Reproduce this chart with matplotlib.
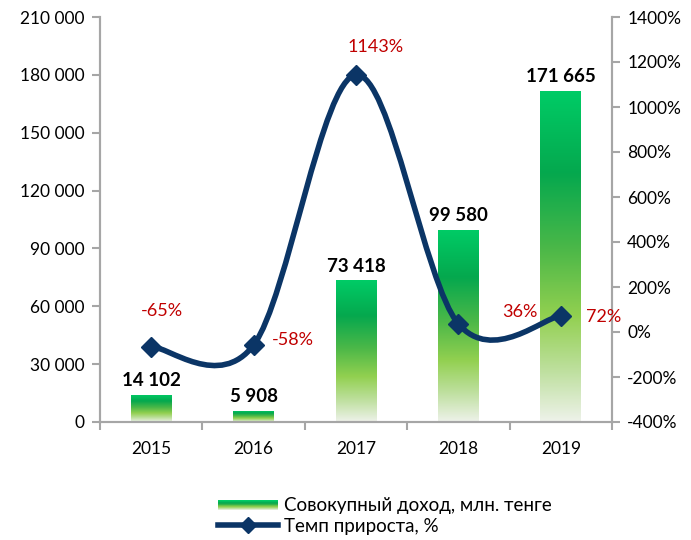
import matplotlib
matplotlib.use('Agg')
import matplotlib.pyplot as plt
import numpy as np
from matplotlib.colors import LinearSegmentedColormap
from matplotlib.path import Path
from matplotlib.patches import PathPatch
from matplotlib.lines import Line2D
from matplotlib.legend_handler import HandlerBase

plt.rcParams['font.family'] = ['Lato', 'DejaVu Sans']

years = ['2015', '2016', '2017', '2018', '2019']
income = [14102, 5908, 73418, 99580, 171665]
growth = [-65, -58, 1143, 36, 72]
income_labels = ['14 102', '5 908', '73 418', '99 580', '171 665']
growth_labels = ['-65%', '-58%', '1143%', '36%', '72%']

navy = '#0b3566'
red = '#c00000'
gray = '#a6a6a6'

# bottom -> top gradient
grad = LinearSegmentedColormap.from_list('g', [
    (0.0, '#eef2ea'), (0.15, '#bfe0a0'), (0.32, '#92d050'),
    (0.52, '#4cb848'), (0.75, '#05a84e'), (1.0, '#00cc66')])

fig = plt.figure(figsize=(6.91, 5.40), dpi=100)
ax = fig.add_axes([100 / 691, 118 / 540, 512 / 691, 405 / 540])
ax2 = ax.twinx()

x = np.arange(len(years))
bw = 0.4
bars = ax.bar(x, income, bw, color='none', edgecolor='none', zorder=2)
img = np.linspace(0, 1, 256).reshape(-1, 1)
for b in bars:
    x0, h = b.get_x(), b.get_height()
    im = ax.imshow(img, cmap=grad, origin='lower', aspect='auto',
                   extent=[x0, x0 + b.get_width(), 0, h], zorder=2)
    im.set_clip_path(b)

for xi, v, lab in zip(x, income, income_labels):
    ax.text(xi, v + 3000, lab, ha='center', va='bottom', fontsize=13.5,
            fontweight='bold', color='black', zorder=5)

ax.set_xlim(-0.5, len(years) - 0.5)
ax.set_ylim(0, 210000)
ax.set_yticks(range(0, 210001, 30000))
ax.set_yticklabels([f'{v:,}'.replace(',', ' ') for v in range(0, 210001, 30000)])
ax2.set_ylim(-400, 1400)
ax2.set_yticks(range(-400, 1401, 200))
ax2.set_yticklabels([f'{v}%' for v in range(-400, 1401, 200)])

ax.set_xticks(x)
ax.set_xticklabels(years)
ax.set_xticks(np.arange(-0.5, len(years), 1), minor=True)
ax.tick_params(axis='x', which='major', length=0, pad=14, labelsize=12.5)
ax.tick_params(axis='x', which='minor', length=6, color=gray, width=1.5)
ax.tick_params(axis='y', length=6, color=gray, width=1.5, labelsize=12.5, pad=5)
ax2.tick_params(axis='y', length=6, color=gray, width=1.5, labelsize=12.5, pad=5)

for a in (ax, ax2):
    a.spines['top'].set_visible(False)
    for s in ('left', 'right', 'bottom'):
        a.spines[s].set_color(gray)
        a.spines[s].set_linewidth(1.5)

# smoothed line (Catmull-Rom -> cubic Bezier, like Excel's smoothing)
pts = np.column_stack([x, growth]).astype(float)
verts = [tuple(pts[0])]
codes = [Path.MOVETO]
n = len(pts)
for i in range(n - 1):
    p0 = pts[i - 1] if i > 0 else pts[i]
    p1, p2 = pts[i], pts[i + 1]
    p3 = pts[i + 2] if i + 2 < n else pts[i + 1]
    c1 = p1 + (p2 - p0) / 6
    c2 = p2 - (p3 - p1) / 6
    verts += [tuple(c1), tuple(c2), tuple(p2)]
    codes += [Path.CURVE4] * 3
ax2.add_patch(PathPatch(Path(verts, codes), facecolor='none', edgecolor=navy,
                        lw=4, zorder=3, capstyle='round'))
ax2.plot(x, growth, linestyle='none', marker='D', markersize=10.5, color=navy, zorder=4)

offsets = [(0.1, 158, 'center'), (0.18, 22, 'left'), (0.19, 124, 'center'),
           (0.6, 53, 'center'), (0.25, -5, 'left')]
for xi, v, lab, (dx, dy, ha) in zip(x, growth, growth_labels, offsets):
    ax2.text(xi + dx, v + dy, lab, ha=ha, va='center', fontsize=13, color=red, zorder=5)

ax.set_zorder(ax2.get_zorder() - 1)
ax.patch.set_visible(True)
ax2.patch.set_visible(False)


class GradHandler(HandlerBase):
    def create_artists(self, legend, orig, xd, yd, w, h, fs, trans):
        arts = []
        k = 20
        for j in range(k):
            r = plt.Rectangle((xd, yd + h * 0.1 + j * h * 0.7 / k), w, h * 0.7 / k,
                              color=grad(j / (k - 1) * 0.95 + 0.05), lw=0, transform=trans)
            arts.append(r)
        return arts


bar_handle = plt.Rectangle((0, 0), 1, 1)
line_handle = Line2D([], [], color=navy, lw=4, marker='D', markersize=8)
fig.legend([bar_handle, line_handle],
           ['Совокупный доход, млн. тенге', 'Темп прироста, %'],
           handler_map={bar_handle: GradHandler()},
           loc='upper left', bbox_to_anchor=(201 / 691, 1 - 480 / 540), frameon=False,
           fontsize=13.5, handlelength=3.2, handletextpad=0.3, labelspacing=0.2)

fig.savefig('out.png', dpi=100)
